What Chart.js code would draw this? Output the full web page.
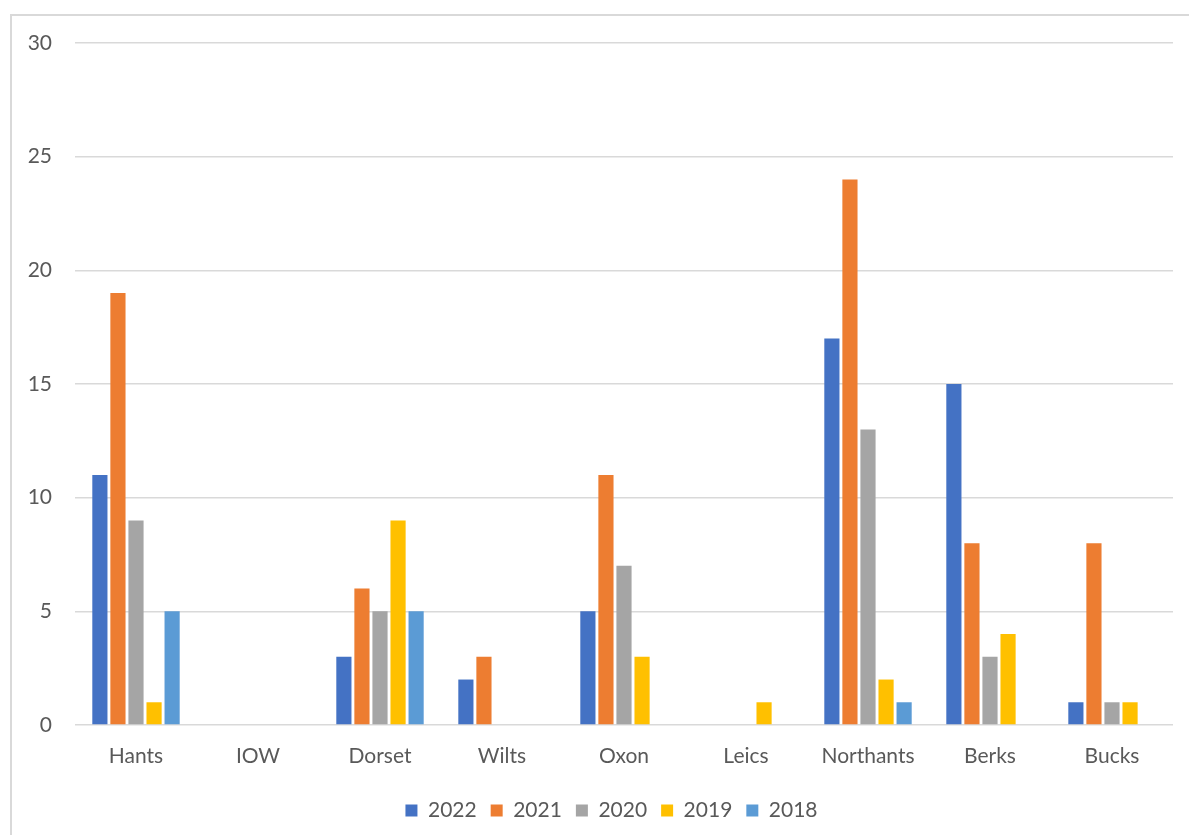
<!DOCTYPE html>
<html lang="en">
<head>
    <meta charset="UTF-8">
    <title>Counties by Year</title>
    <style>
        body {
            margin: 0;
            padding: 0;
            background: #ffffff;
            overflow: hidden;
        }

        .frame {
            position: absolute;
            left: 10px;
            top: 14px;
            width: 1200px;
            height: 840px;
            border: 2px solid #d9d9d9;
        }

        .wrap {
            position: absolute;
            left: 0;
            top: 0;
            width: 1189px;
            height: 835px;
        }
    </style>
</head>
<body>
    <div class="frame"></div>
    <div class="wrap">
        <canvas id="chart" width="1189" height="835"></canvas>
    </div>

    <script src="https://cdn.jsdelivr.net/npm/chart.js"></script>
    <script>
        // Data
        const counties = ["Hants", "IOW", "Dorset", "Wilts", "Oxon", "Leics", "Northants", "Berks", "Bucks"];
        const years = ["2022", "2021", "2020", "2019", "2018"];
        const values2022 = [11, 0, 3, 2, 5, 0, 17, 15, 1];
        const values2021 = [19, 0, 6, 3, 11, 0, 24, 8, 8];
        const values2020 = [9, 0, 5, 0, 7, 0, 13, 3, 1];
        const values2019 = [1, 0, 9, 0, 3, 1, 2, 4, 1];
        const values2018 = [5, 0, 5, 0, 0, 0, 1, 0, 0];
        const yTicks = [0, 5, 10, 15, 20, 25, 30];

        const colours = ["#4472C4", "#ED7D31", "#A5A5A5", "#FFC000", "#5B9BD5"];
        const series = [values2022, values2021, values2020, values2019, values2018];

        const textColour = "#595959";
        const fontFamily = "Lato, 'Open Sans', sans-serif";

        // nudge the legend right so it sits where the original one does
        const legendShift = {
            id: "legendShift",
            afterLayout(chart) {
                chart.legend.left += 25;
                chart.legend.right += 25;
            },
        };

        const ctx = document.getElementById("chart").getContext("2d");

        new Chart(ctx, {
            type: "bar",
            data: {
                labels: counties,
                datasets: years.map((y, i) => ({
                    label: y,
                    data: series[i],
                    backgroundColor: colours[i],
                    borderWidth: 0,
                    categoryPercentage: 0.74,
                    barPercentage: 0.84,
                })),
            },
            plugins: [legendShift],
            options: {
                responsive: false,
                animation: false,
                layout: {
                    padding: { left: 0, right: 16, top: 43, bottom: 4 },
                },
                plugins: {
                    legend: {
                        position: "bottom",
                        labels: {
                            color: textColour,
                            boxWidth: 12,
                            boxHeight: 12,
                            padding: 14,
                            font: { family: fontFamily, size: 21, lineHeight: 1 },
                        },
                    },
                    tooltip: { enabled: false },
                },
                scales: {
                    x: {
                        grid: { display: false },
                        border: { display: false },
                        ticks: {
                            color: textColour,
                            padding: 11,
                            font: { family: fontFamily, size: 21 },
                        },
                        afterFit: (scale) => { scale.height = 61; },
                    },
                    y: {
                        min: 0,
                        max: 30,
                        afterBuildTicks: (scale) => {
                            scale.ticks = yTicks.map((v) => ({ value: v }));
                        },
                        grid: {
                            color: "#d9d9d9",
                            lineWidth: 1.5,
                            tickLength: 0,
                            drawTicks: false,
                        },
                        border: { display: false },
                        ticks: {
                            color: textColour,
                            padding: 23,
                            font: { family: fontFamily, size: 21 },
                        },
                        afterFit: (scale) => { scale.width = 75; },
                    },
                },
            },
        });
    </script>
</body>
</html>
